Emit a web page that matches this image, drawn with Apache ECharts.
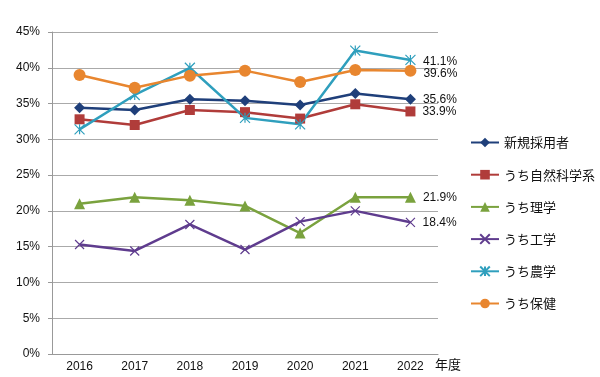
<!DOCTYPE html>
<html>
<head>
<meta charset="utf-8">
<script src="https://cdn.jsdelivr.net/npm/echarts@6/dist/echarts.min.js"></script>
<style>
  html, body { margin: 0; padding: 0; background: #fff; }
  #chart { width: 600px; height: 377px; }
</style>
</head>
<body>
<div id="chart"></div>
<script>
var years = ['2016', '2017', '2018', '2019', '2020', '2021', '2022'];
var yTicks = [0, 5, 10, 15, 20, 25, 30, 35, 40, 45];

var shinki   = [34.4, 34.1, 35.6, 35.4, 34.8, 36.4, 35.6];
var shizen   = [32.8, 32.0, 34.1, 33.8, 32.9, 34.9, 33.9];
var rigaku   = [21.0, 21.9, 21.5, 20.7, 16.9, 21.9, 21.9];
var kougaku  = [15.3, 14.4, 18.1, 14.6, 18.5, 20.0, 18.4];
var nougaku  = [31.4, 36.2, 40.0, 33.0, 32.1, 42.4, 41.1];
var hoken    = [39.0, 37.2, 38.9, 39.6, 38.0, 39.7, 39.6];

var FONT = "'Liberation Sans', 'Noto Sans CJK JP', sans-serif";
var JP = "'Noto Sans CJK JP', sans-serif";

// series definitions
var defs = [
  {name: '新規採用者', data: shinki, color: '#1f3f7a', symbol: 'diamond', size: 11},
  {name: 'うち自然科学系', data: shizen, color: '#b03c3a', symbol: 'rect', size: 10},
  {name: 'うち理学', data: rigaku, color: '#7aa23e', symbol: 'triangle', size: 11},
  {name: 'うち工学', data: kougaku, color: '#5f3c8e', symbol: 'path://M0,0L10,10M10,0L0,10', size: 9, stroke: true},
  {name: 'うち農学', data: nougaku, color: '#2f9fbd', symbol: 'path://M0,0L10,10M10,0L0,10M5,0L5,10', size: 10, stroke: true},
  {name: 'うち保健', data: hoken, color: '#e8862f', symbol: 'circle', size: 12}
];

var series = defs.map(function(d) {
  var last = d.data.length - 1;
  return {
    name: d.name,
    type: 'line',
    data: d.data,
    symbol: d.symbol,
    symbolSize: d.size,
    showAllSymbol: true,
    lineStyle: { width: 2.5, color: d.color },
    itemStyle: d.stroke ?
      { color: d.color, borderColor: d.color, borderWidth: 1.2 } :
      { color: d.color },
    label: {
      show: true,
      position: 'right',
      distance: 7,
      color: '#111',
      fontSize: 12,
      fontFamily: FONT,
      offset: d.name === 'うち保健' ? [0, 3] : (d.name === 'うち農学' ? [0, 2] : [0, 0]),
      formatter: function(p) {
        return p.dataIndex === last ? p.value.toFixed(1) + '%' : '';
      }
    },
    emphasis: { disabled: true },
    z: 2
  };
});

var chart = echarts.init(document.getElementById('chart'));
chart.setOption({
  animation: false,
  textStyle: { fontFamily: FONT },
  grid: { left: 52, right: 162, top: 32, bottom: 23 },
  legend: {
    orient: 'vertical',
    left: 465,
    top: 131,
    itemWidth: 28,
    itemHeight: 12,
    itemGap: 19.2,
    data: defs.map(function(d) { return d.name; }),
    textStyle: { fontSize: 13, color: '#111', fontFamily: JP }
  },
  xAxis: {
    type: 'category',
    data: years,
    boundaryGap: true,
    name: '年度',
    nameLocation: 'end',
    nameGap: -3,
    nameTextStyle: { fontSize: 13, color: '#111', verticalAlign: 'top', padding: [4, 0, 0, 0], fontFamily: JP },
    axisLine: { lineStyle: { color: '#999', width: 1 } },
    axisTick: { show: false },
    axisLabel: { fontSize: 12, color: '#111', margin: 7 }
  },
  yAxis: {
    type: 'value',
    min: yTicks[0],
    max: yTicks[yTicks.length - 1],
    interval: 5,
    axisLine: { show: true, lineStyle: { color: '#999', width: 1 } },
    axisTick: { show: true, length: 4, lineStyle: { color: '#999' } },
    axisLabel: { fontSize: 12, color: '#111', margin: 12, formatter: '{value}%' },
    splitLine: { lineStyle: { color: '#aaa', width: 1 } }
  },
  series: series
});
</script>
</body>
</html>
